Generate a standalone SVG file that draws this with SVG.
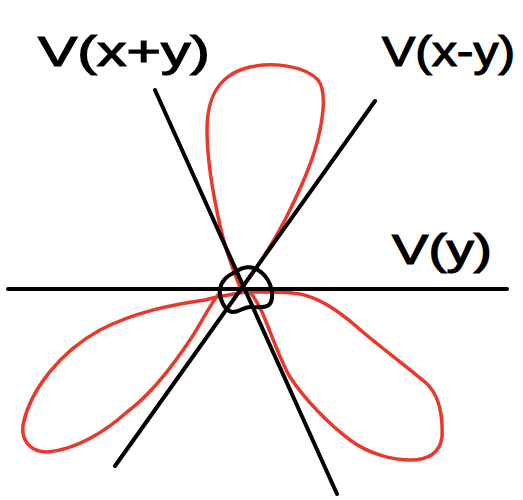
<svg xmlns="http://www.w3.org/2000/svg" width="523" height="500" viewBox="0 0 523 500">
<style>
.ax{stroke:#000;stroke-width:4;stroke-linecap:round;fill:none}
.lobe{stroke:#e8392a;stroke-width:3.5;fill:none;stroke-linejoin:round}
.lbl{font-family:"Liberation Sans","DejaVu Sans",sans-serif;font-size:42px;fill:#000;stroke:#000;stroke-width:1.2}
</style>
<rect width="523" height="500" fill="#fff"/>
<g id="lobes">
<path class="lobe" d="M240,287 C232,268 226,250 221,230 C213,195 207,160 207,130 C207,95 220,74 250,67 C275,62 305,66 318,80 C326,90 324,110 320,130 C314,160 300,190 285,220 C272,245 257,268 240,290"/>
<path class="lobe" d="M250,291 C235,294 220,296 205,300 C170,305 135,312 100,330 C60,352 30,390 23,425 C21,440 30,452 47,452 C75,450 105,432 127,412 C150,395 170,370 190,340 C200,325 208,308 220,292"/>
<path class="lobe" d="M243,292 C265,292 285,291 300,294 C320,298 340,312 357,327 C375,343 405,365 425,382 C440,395 443,415 442,437 C440,452 430,460 410,460 C395,460 370,455 350,440 C330,425 305,400 290,377 C280,360 272,335 262,312 C258,303 254,297 250,292"/>
</g>
<g id="connectors">
<line class="ax" x1="8" y1="289" x2="507" y2="289"/>
<line class="ax" x1="155" y1="90" x2="337" y2="494"/>
<line class="ax" x1="375" y1="101" x2="115" y2="466"/>
<path class="ax" stroke-width="3" d="M236,272 C243,266 252,266 258,270 C268,276 275,290 271,302 C268,309 258,307 250,307 C243,307 238,313 232,312 C224,310 219,298 220,290 C221,280 228,275 236,272"/>
</g>
<g id="label-xy"><text class="lbl" x="38" y="66" textLength="172" lengthAdjust="spacingAndGlyphs">V(x+y)</text></g>
<g id="label-xmy"><text class="lbl" x="382" y="66" textLength="133" lengthAdjust="spacingAndGlyphs">V(x-y)</text></g>
<g id="label-y"><text class="lbl" x="392" y="264" textLength="100" lengthAdjust="spacingAndGlyphs">V(y)</text></g>
</svg>
